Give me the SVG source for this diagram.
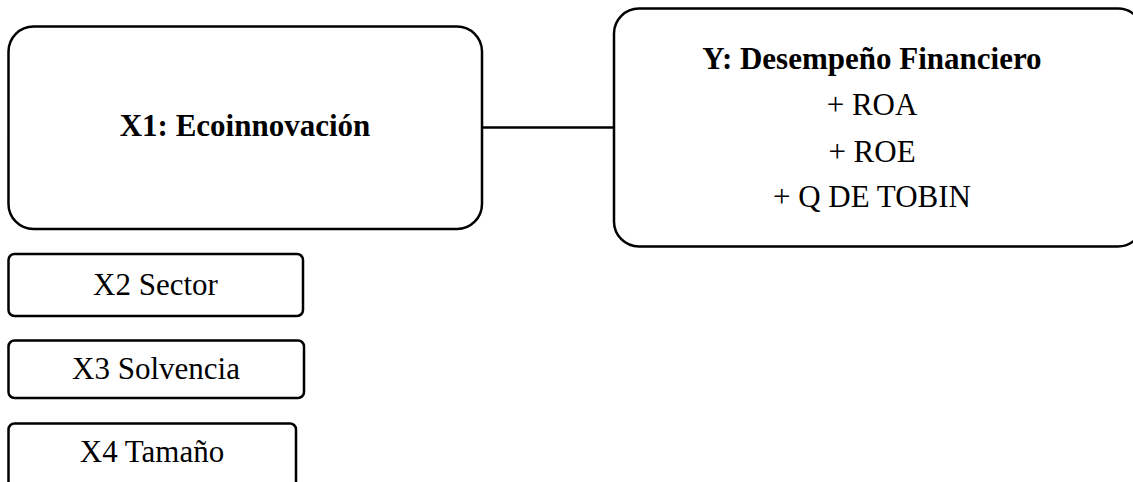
<svg xmlns="http://www.w3.org/2000/svg" width="1133" height="482" viewBox="0 0 1133 482">
<style>
.box{fill:#fff;stroke:#000;stroke-width:2.5}
.t{font-family:"Liberation Serif","Times New Roman",serif;font-size:31px;fill:#000;text-anchor:middle}
.b{font-weight:bold}
.c{stroke:#000;stroke-width:2.5;fill:none}
</style>
<rect width="1133" height="482" fill="#fff"/>
<g id="connectors">
<line class="c" x1="482" y1="127.5" x2="614" y2="127.5"/>
</g>
<g id="x1">
<rect class="box" x="8.5" y="26.5" width="473.5" height="202.5" rx="25"/>
<text class="t b" x="245" y="136">X1: Ecoinnovación</text>
</g>
<g id="y">
<rect class="box" x="614" y="8.5" width="529" height="238" rx="25"/>
<text class="t b" x="872" y="69">Y: Desempeño Financiero</text>
<text class="t" x="872" y="115">+ ROA</text>
<text class="t" x="872" y="161.5">+ ROE</text>
<text class="t" x="872" y="207">+ Q DE TOBIN</text>
</g>
<g id="x2">
<rect class="box" x="8.5" y="254" width="294.5" height="62" rx="6"/>
<text class="t" x="155.5" y="295">X2 Sector</text>
</g>
<g id="x3">
<rect class="box" x="8.5" y="340.5" width="295.5" height="57.5" rx="6"/>
<text class="t" x="156" y="378.5">X3 Solvencia</text>
</g>
<g id="x4">
<rect class="box" x="8.5" y="423.5" width="287.5" height="80" rx="6"/>
<text class="t" x="152" y="461.5">X4 Tamaño</text>
</g>
</svg>
